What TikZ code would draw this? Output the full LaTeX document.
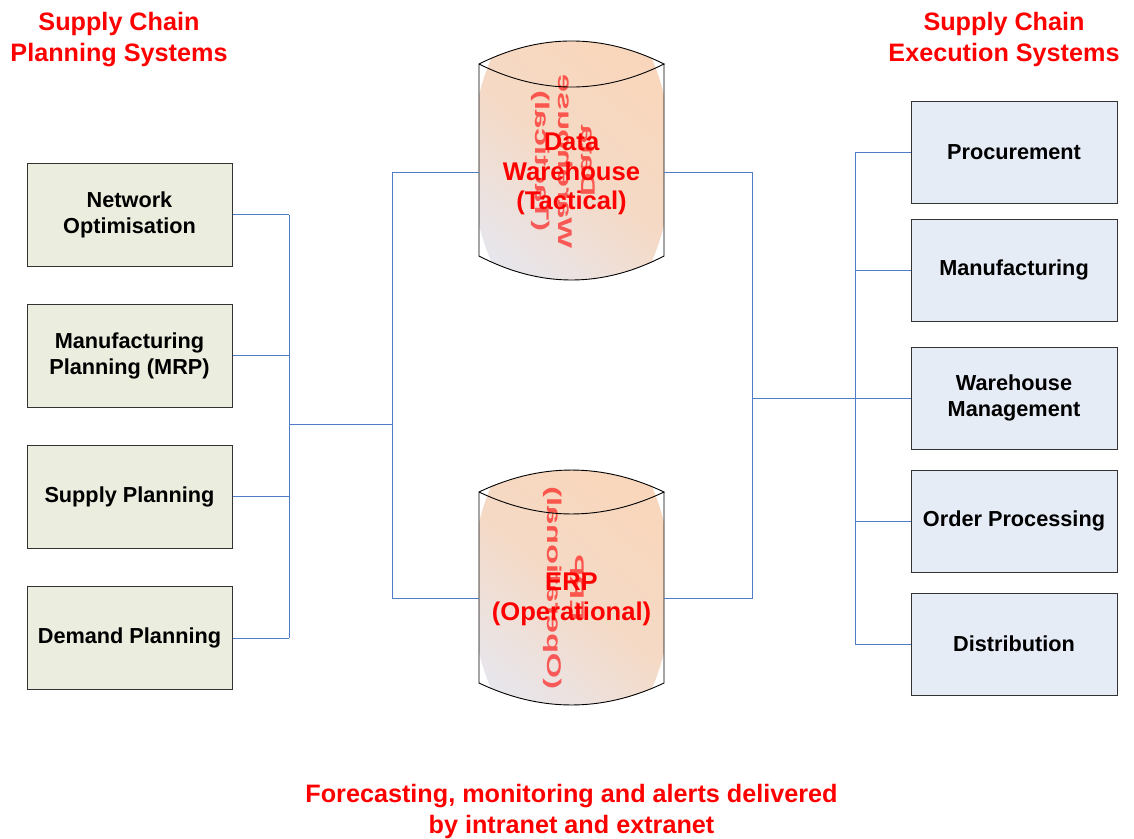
\documentclass[tikz,border=0pt]{standalone}
\usepackage{fontspec}
\setmainfont{Liberation Sans}
\definecolor{linkblue}{RGB}{79,124,196}
\definecolor{planfill}{RGB}{235,237,222}
\definecolor{execfill}{RGB}{230,236,246}
\definecolor{drumpeach}{RGB}{249,214,186}
\definecolor{drumblue}{RGB}{230,231,240}
\begin{document}
\begin{tikzpicture}[x=1pt,y=-1pt,
  link/.style={draw=linkblue, line width=1pt},
  planbox/.style={draw=black!80, line width=1pt, fill=planfill,
    minimum width=205pt, minimum height=103pt, align=center,
    font=\bfseries\fontsize{21.7}{26}\selectfont},
  execbox/.style={draw=black!80, line width=1pt, fill=execfill,
    minimum width=206pt, minimum height=102pt, align=center,
    font=\bfseries\fontsize{21.7}{26}\selectfont},
  heading/.style={text=red, align=center, font=\bfseries\fontsize{25.2}{31}\selectfont},
  drumtext/.style={text=red, align=center, inner sep=0pt, minimum width=185pt,
    font=\bfseries\fontsize{25.6}{29.5}\selectfont},
  ghosttext/.style={text=red, opacity=0.6, align=center, inner sep=0pt,
    font=\bfseries\fontsize{25.6}{29.5}\selectfont,
    transform shape, cm={0,1.27,0.775,0,(0,0)}},
  drumline/.style={draw=black, line width=0.9pt}
]
\useasboundingbox (0,0) rectangle (1134,838);

% ---- Data warehouse drum ----
\begin{scope}
  \clip (479,64) .. controls (540.7,33.3) and (602.3,33.3) .. (664,64) -- (664,256)
        .. controls (602.3,288) and (540.7,288) .. (479,256) -- cycle;
  \fill[white] (470,10) rectangle (680,300);
  \shade[bottom color=drumblue, top color=drumpeach, middle color=drumpeach!80!drumblue,
         shading angle=-40] (571.5,160) ellipse [x radius=100, y radius=170];
\end{scope}
\node[ghosttext] (dwghost) at (563,161) {Data\\Warehouse\\(Tactical)};
\draw[drumline] (479,64) .. controls (540.7,33.3) and (602.3,33.3) .. (664,64)
  .. controls (602.3,94.7) and (540.7,94.7) .. (479,64) -- (479,256)
  .. controls (540.7,288) and (602.3,288) .. (664,256) -- (664,64);
\node[drumtext] (dw) at (571.5,172) {};
\node[drumtext] (dwlabel) at (571.5,174) {Data\\Warehouse\\(Tactical)};

% ---- ERP drum ----
\begin{scope}
  \clip (479,492) .. controls (540.7,462.7) and (602.3,462.7) .. (664,492) -- (664,683)
        .. controls (602.3,712.3) and (540.7,712.3) .. (479,683) -- cycle;
  \fill[white] (470,440) rectangle (680,730);
  \shade[bottom color=drumblue, top color=drumpeach, middle color=drumpeach!80!drumblue,
         shading angle=-40] (571.5,587.5) ellipse [x radius=100, y radius=170];
\end{scope}
\node[ghosttext] (erpghost) at (564,588) {ERP\\(Operational)};
\draw[drumline] (479,492) .. controls (540.7,462.7) and (602.3,462.7) .. (664,492)
  .. controls (602.3,521.3) and (540.7,521.3) .. (479,492) -- (479,683)
  .. controls (540.7,712.3) and (602.3,712.3) .. (664,683) -- (664,492);
\node[drumtext] (erp) at (571.5,598) {};
\node[drumtext] (erplabel) at (571.5,599.5) {ERP\\(Operational)};

% ---- headings ----
\node[heading] (plantitle) at (119,39.5) {Supply Chain\\Planning Systems};
\node[heading] (exectitle) at (1004,39.5) {Supply Chain\\Execution Systems};
\node[heading] (footer) at (571.5,811) {Forecasting, monitoring and alerts delivered\\by intranet and extranet};

% ---- planning systems ----
\node[planbox] (p1) at (129.5,214.5) {Network\\Optimisation};
\node[planbox] (p2) at (129.5,355.5) {Manufacturing\\Planning (MRP)};
\node[planbox] (p3) at (129.5,496.5) {Supply Planning};
\node[planbox] (p4) at (129.5,638) {Demand Planning};

% ---- execution systems ----
\node[execbox] (e1) at (1014,152) {Procurement};
\node[execbox] (e2) at (1014,270) {Manufacturing};
\node[execbox] (e3) at (1014,398) {Warehouse\\Management};
\node[execbox] (e4) at (1014,521) {Order Processing};
\node[execbox] (e5) at (1014,644) {Distribution};

% ---- junction points ----
\coordinate (busL) at (289,424);
\coordinate (midL) at (392,424);
\coordinate (midR) at (752,398);
\coordinate (busR) at (855,398);

% ---- left tree ----
\foreach \b in {p1,p2,p3,p4}
  \draw[link] (\b.east) -- (\b.east -| busL);
\draw[link] (p1.east -| busL) -- (p4.east -| busL);
\draw[link] (busL) -- (midL);
\draw[link] (dw.west) -| (midL);
\draw[link] (erp.west) -| (midL);

% ---- right tree ----
\draw[link] (dw.east) -| (midR);
\draw[link] (erp.east) -| (midR);
\draw[link] (midR) -- (busR);
\foreach \b in {e1,e2,e3,e4,e5}
  \draw[link] (\b.west) -- (\b.west -| busR);
\draw[link] (e1.west -| busR) -- (e5.west -| busR);
\end{tikzpicture}
\end{document}
